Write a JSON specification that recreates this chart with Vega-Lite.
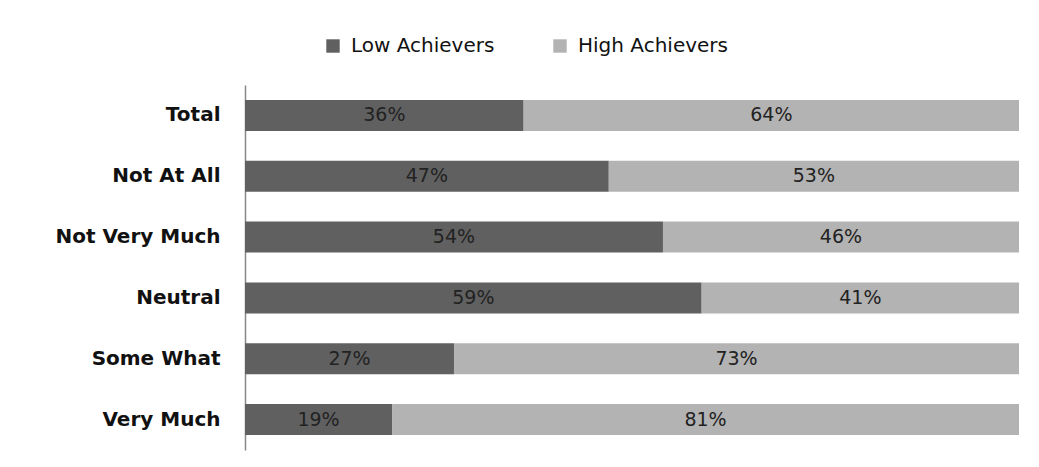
{
  "$schema": "https://vega.github.io/schema/vega-lite/v6.json",
  "width": 774,
  "height": 365,
  "autosize": {"type": "none"},
  "padding": {"left": 245, "top": 85, "right": 20, "bottom": 17},
  "background": "white",
  "config": {"view": {"stroke": null}, "font": "DejaVu Sans"},
  "data": {
    "values": [
      {"category": "Total", "group": "Low Achievers", "rank": 1, "pct": 36},
      {"category": "Total", "group": "High Achievers", "rank": 2, "pct": 64},
      {"category": "Not At All", "group": "Low Achievers", "rank": 1, "pct": 47},
      {"category": "Not At All", "group": "High Achievers", "rank": 2, "pct": 53},
      {"category": "Not Very Much", "group": "Low Achievers", "rank": 1, "pct": 54},
      {"category": "Not Very Much", "group": "High Achievers", "rank": 2, "pct": 46},
      {"category": "Neutral", "group": "Low Achievers", "rank": 1, "pct": 59},
      {"category": "Neutral", "group": "High Achievers", "rank": 2, "pct": 41},
      {"category": "Some What", "group": "Low Achievers", "rank": 1, "pct": 27},
      {"category": "Some What", "group": "High Achievers", "rank": 2, "pct": 73},
      {"category": "Very Much", "group": "Low Achievers", "rank": 1, "pct": 19},
      {"category": "Very Much", "group": "High Achievers", "rank": 2, "pct": 81}
    ]
  },
  "transform": [
    {"stack": "pct", "groupby": ["category"], "sort": [{"field": "rank", "order": "ascending"}], "as": ["x0", "x1"]},
    {"calculate": "(datum.x0 + datum.x1) / 2", "as": "mid"},
    {"calculate": "datum.pct + '%'", "as": "label"}
  ],
  "encoding": {
    "y": {
      "field": "category",
      "type": "nominal",
      "sort": ["Total", "Not At All", "Not Very Much", "Neutral", "Some What", "Very Much"],
      "scale": {"paddingInner": 0.49, "paddingOuter": 0.245},
      "axis": {
        "title": null,
        "ticks": false,
        "domainColor": "#888888",
        "domainWidth": 1.5,
        "labelFontSize": 20,
        "labelFontWeight": "bold",
        "labelColor": "#111111",
        "labelPadding": 25
      }
    }
  },
  "layer": [
    {
      "mark": {"type": "bar"},
      "encoding": {
        "x": {"field": "x0", "type": "quantitative", "scale": {"domain": [0, 100]}, "axis": null},
        "x2": {"field": "x1"},
        "color": {
          "field": "group",
          "type": "nominal",
          "scale": {"domain": ["Low Achievers", "High Achievers"], "range": ["#606060", "#b3b3b3"]},
          "legend": {
            "title": null,
            "orient": "none",
            "direction": "horizontal",
            "legendX": 78,
            "legendY": -49,
            "symbolType": "square",
            "symbolSize": 180,
            "symbolStrokeWidth": 0,
            "labelFontSize": 20,
            "labelColor": "#111111",
            "columnPadding": 55,
            "labelOffset": 8,
            "labelLimit": 300
          }
        }
      }
    },
    {
      "mark": {"type": "text", "fontSize": 19, "color": "#222222"},
      "encoding": {
        "x": {"field": "mid", "type": "quantitative"},
        "text": {"field": "label"}
      }
    }
  ]
}
